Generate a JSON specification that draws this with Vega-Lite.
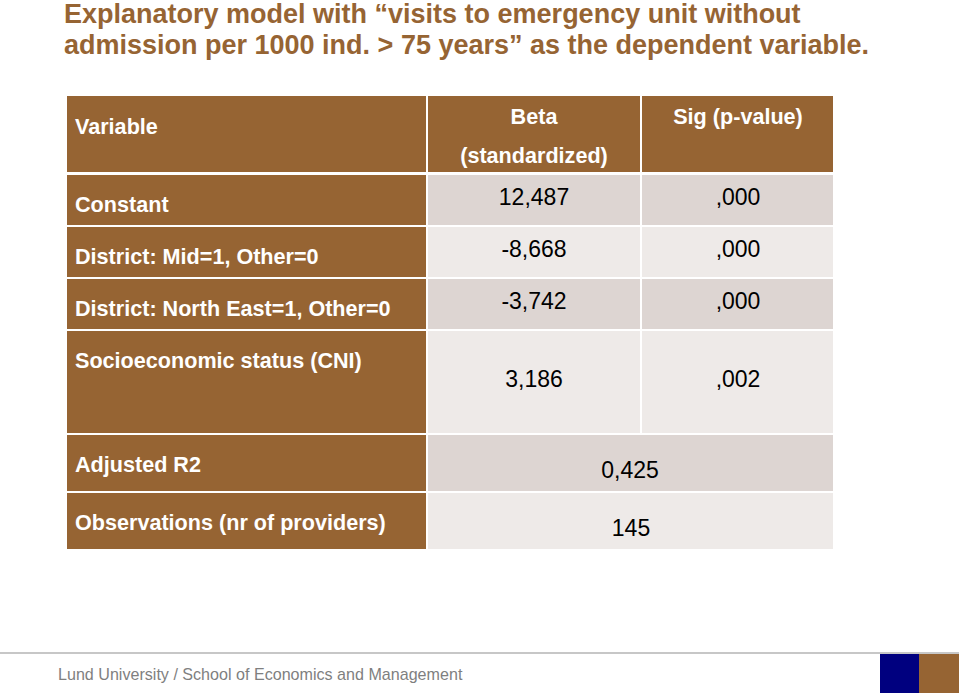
{
  "$schema": "https://vega.github.io/schema/vega-lite/v6.json",
  "width": 959,
  "height": 693,
  "autosize": "none",
  "padding": 0,
  "background": "white",
  "config": {"view": {"stroke": null}},
  "datasets": {
    "cells": [
      {"part": "header", "col": "Variable", "x0": 67, "x1": 426, "y0": 96, "y1": 172, "kind": "brown"},
      {"part": "header", "col": "Beta", "x0": 428, "x1": 640, "y0": 96, "y1": 172, "kind": "brown"},
      {"part": "header", "col": "Sig", "x0": 642, "x1": 833, "y0": 96, "y1": 172, "kind": "brown"},
      {"part": "Constant", "col": "Variable", "x0": 67, "x1": 426, "y0": 175, "y1": 225, "kind": "brown"},
      {"part": "Constant", "col": "Beta", "x0": 428, "x1": 640, "y0": 175, "y1": 225, "kind": "dark"},
      {"part": "Constant", "col": "Sig", "x0": 642, "x1": 833, "y0": 175, "y1": 225, "kind": "dark"},
      {"part": "Mid", "col": "Variable", "x0": 67, "x1": 426, "y0": 227, "y1": 277, "kind": "brown"},
      {"part": "Mid", "col": "Beta", "x0": 428, "x1": 640, "y0": 227, "y1": 277, "kind": "light"},
      {"part": "Mid", "col": "Sig", "x0": 642, "x1": 833, "y0": 227, "y1": 277, "kind": "light"},
      {"part": "NorthEast", "col": "Variable", "x0": 67, "x1": 426, "y0": 279, "y1": 329, "kind": "brown"},
      {"part": "NorthEast", "col": "Beta", "x0": 428, "x1": 640, "y0": 279, "y1": 329, "kind": "dark"},
      {"part": "NorthEast", "col": "Sig", "x0": 642, "x1": 833, "y0": 279, "y1": 329, "kind": "dark"},
      {"part": "CNI", "col": "Variable", "x0": 67, "x1": 426, "y0": 331, "y1": 433, "kind": "brown"},
      {"part": "CNI", "col": "Beta", "x0": 428, "x1": 640, "y0": 331, "y1": 433, "kind": "light"},
      {"part": "CNI", "col": "Sig", "x0": 642, "x1": 833, "y0": 331, "y1": 433, "kind": "light"},
      {"part": "R2", "col": "Variable", "x0": 67, "x1": 426, "y0": 435, "y1": 491, "kind": "brown"},
      {"part": "R2", "col": "Value", "x0": 428, "x1": 833, "y0": 435, "y1": 491, "kind": "dark"},
      {"part": "Obs", "col": "Variable", "x0": 67, "x1": 426, "y0": 493, "y1": 549, "kind": "brown"},
      {"part": "Obs", "col": "Value", "x0": 428, "x1": 833, "y0": 493, "y1": 549, "kind": "light"},
      {"part": "logo", "col": "navy", "x0": 880, "x1": 919, "y0": 654, "y1": 693, "kind": "navy"},
      {"part": "logo", "col": "brown", "x0": 919, "x1": 959, "y0": 654, "y1": 693, "kind": "brown"}
    ],
    "title": [
      {"text": "Explanatory model with “visits to emergency unit without", "x": 64, "y": 23},
      {"text": "admission per 1000 ind. > 75 years” as the dependent variable.", "x": 64, "y": 54}
    ],
    "labels": [
      {"text": "Variable", "x": 75, "y": 134},
      {"text": "Constant", "x": 75, "y": 212},
      {"text": "District: Mid=1, Other=0", "x": 75, "y": 264},
      {"text": "District: North East=1, Other=0", "x": 75, "y": 316},
      {"text": "Socioeconomic status (CNI)", "x": 75, "y": 368},
      {"text": "Adjusted R2", "x": 75, "y": 472},
      {"text": "Observations (nr of providers)", "x": 75, "y": 530}
    ],
    "heads": [
      {"text": "Beta", "x": 534, "y": 124},
      {"text": "(standardized)", "x": 534, "y": 163},
      {"text": "Sig (p-value)", "x": 738, "y": 124}
    ],
    "values": [
      {"text": "12,487", "x": 534, "y": 205},
      {"text": ",000", "x": 738, "y": 205},
      {"text": "-8,668", "x": 534, "y": 257},
      {"text": ",000", "x": 738, "y": 257},
      {"text": "-3,742", "x": 534, "y": 309},
      {"text": ",000", "x": 738, "y": 309},
      {"text": "3,186", "x": 534, "y": 387},
      {"text": ",002", "x": 738, "y": 387},
      {"text": "0,425", "x": 630, "y": 478},
      {"text": "145", "x": 631, "y": 536}
    ],
    "footer": [
      {"text": "Lund University / School of Economics and Management", "x": 58, "y": 680}
    ],
    "line": [
      {"x0": 0, "x1": 959, "y": 653}
    ]
  },
  "layer": [
    {
      "data": {"name": "cells"},
      "mark": {"type": "rect"},
      "encoding": {
        "x": {"field": "x0", "type": "quantitative", "scale": {"domain": [0, 959], "nice": false, "zero": false}, "axis": null},
        "x2": {"field": "x1"},
        "y": {"field": "y0", "type": "quantitative", "scale": {"domain": [0, 693], "nice": false, "zero": false, "reverse": true}, "axis": null},
        "y2": {"field": "y1"},
        "color": {"field": "kind", "type": "nominal", "legend": null, "scale": {"domain": ["brown", "dark", "light", "navy"], "range": ["#966433", "#ddd5d2", "#eeeae8", "#00007f"]}}
      }
    },
    {
      "data": {"name": "line"},
      "mark": {"type": "rule", "color": "#b4b4b4", "strokeWidth": 1.5},
      "encoding": {
        "x": {"field": "x0", "type": "quantitative"},
        "x2": {"field": "x1"},
        "y": {"field": "y", "type": "quantitative"}
      }
    },
    {
      "data": {"name": "title"},
      "mark": {"type": "text", "align": "left", "baseline": "alphabetic", "font": "Liberation Sans", "fontWeight": "bold", "fontSize": 27, "color": "#966433"},
      "encoding": {
        "x": {"field": "x", "type": "quantitative"},
        "y": {"field": "y", "type": "quantitative"},
        "text": {"field": "text"}
      }
    },
    {
      "data": {"name": "labels"},
      "mark": {"type": "text", "align": "left", "baseline": "alphabetic", "font": "Liberation Sans", "fontWeight": "bold", "fontSize": 21.6, "color": "white"},
      "encoding": {
        "x": {"field": "x", "type": "quantitative"},
        "y": {"field": "y", "type": "quantitative"},
        "text": {"field": "text"}
      }
    },
    {
      "data": {"name": "heads"},
      "mark": {"type": "text", "align": "center", "baseline": "alphabetic", "font": "Liberation Sans", "fontWeight": "bold", "fontSize": 21.6, "color": "white"},
      "encoding": {
        "x": {"field": "x", "type": "quantitative"},
        "y": {"field": "y", "type": "quantitative"},
        "text": {"field": "text"}
      }
    },
    {
      "data": {"name": "values"},
      "mark": {"type": "text", "align": "center", "baseline": "alphabetic", "font": "Liberation Sans", "fontSize": 23, "color": "black"},
      "encoding": {
        "x": {"field": "x", "type": "quantitative"},
        "y": {"field": "y", "type": "quantitative"},
        "text": {"field": "text"}
      }
    },
    {
      "data": {"name": "footer"},
      "mark": {"type": "text", "align": "left", "baseline": "alphabetic", "font": "Liberation Sans", "fontSize": 16.1, "color": "#7f7f7f"},
      "encoding": {
        "x": {"field": "x", "type": "quantitative"},
        "y": {"field": "y", "type": "quantitative"},
        "text": {"field": "text"}
      }
    }
  ]
}
